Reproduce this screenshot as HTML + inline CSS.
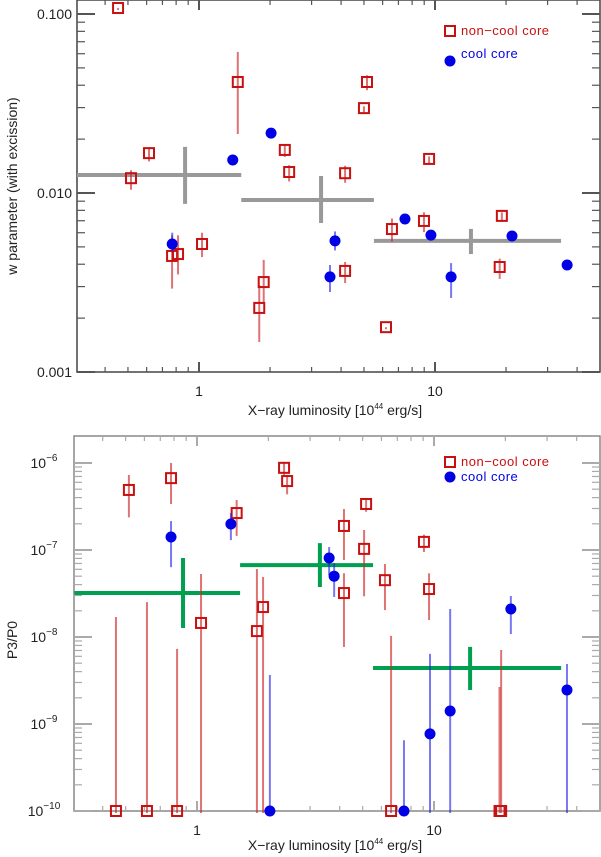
<!DOCTYPE html>
<html><head><meta charset="utf-8"><style>
html,body{margin:0;padding:0;background:#fff;}
svg{display:block;font-family:"Liberation Sans",sans-serif;}
</style></head><body>
<svg id="chart" width="601" height="857" viewBox="0 0 601 857" xmlns="http://www.w3.org/2000/svg">
<g id="top"></g>
<g id="bot"></g>
</svg>
<script>
// ---- top panel data (w parameter) ----
const wNccX   = [0.454,0.515,0.614,0.769,0.815,1.03,1.46,1.80,1.88,2.31,2.41,5.15,5.0,4.16,4.16,9.44,6.57,8.98,6.2,19.2,18.8];
const wNccY   = [0.108,0.0121,0.0167,0.00445,0.00456,0.00519,0.0417,0.00228,0.00318,0.0174,0.0131,0.0417,0.0298,0.0129,0.00367,0.0155,0.00629,0.00698,0.00178,0.00745,0.00386];
const wNccHi  = [0.108,0.0134,0.0180,0.0058,0.0058,0.0060,0.0614,0.00306,0.00423,0.0185,0.0143,0.0455,0.0305,0.0142,0.00412,0.0160,0.0072,0.0078,0.00178,0.0078,0.0043];
const wNccLo  = [0.108,0.0107,0.0154,0.0030,0.0036,0.0045,0.0219,0.00151,0.00252,0.0163,0.0119,0.0385,0.0290,0.0117,0.00322,0.0150,0.0055,0.0062,0.00178,0.0071,0.0034];
const wCcX    = [0.77,1.39,2.02,3.77,3.59,7.46,9.61,11.7,21.2,36.3];
const wCcY    = [0.00519,0.0153,0.0216,0.0054,0.0034,0.00716,0.00582,0.0034,0.00575,0.00396];
const wCcHi   = [0.0060,0.0153,0.0216,0.0061,0.00396,0.00716,0.00582,0.00406,0.00575,0.00396];
const wCcLo   = [0.0048,0.0153,0.0216,0.0049,0.00287,0.00716,0.00582,0.00266,0.00575,0.00396];
const wBinX   = [0.873,3.29,14.2];
const wBinXlo = [0.304,1.51,5.51];
const wBinXhi = [1.51,5.51,34.2];
const wBinY   = [0.0126,0.00914,0.0054];
const wBinYlo = [0.00869,0.0068,0.00456];
const wBinYhi = [0.0181,0.01245,0.0063];
const wYTicks = ["0.001","0.010","0.100"];
// ---- bottom panel data (P3/P0) ----
const pNccX   = [0.516,0.777,1.47,1.04,1.79,1.90,2.33,2.40,0.455,0.615,0.824,4.17,5.07,5.17,4.17,6.21,9.07,9.53,6.59,19.2,18.9];
const pNccY   = [4.9e-7,6.7e-7,2.66e-7,1.45e-8,1.17e-8,2.21e-8,8.8e-7,6.2e-7,1e-10,1e-10,1e-10,1.89e-7,1.03e-7,3.38e-7,3.2e-8,4.5e-8,1.24e-7,3.56e-8,1e-10,1e-10,1e-10];
const pNccHi  = [7.3e-7,1e-6,3.76e-7,5.3e-8,6.05e-8,4.9e-8,1e-6,7.3e-7,1.7e-8,2.52e-8,7.3e-9,2.96e-7,1.70e-7,3.9e-7,5.4e-8,6.9e-8,1.5e-7,5.4e-8,1.03e-8,7.1e-9,2.66e-9];
const pNccLo  = [2.5e-7,3.56e-7,1.53e-7,1e-10,1e-10,1e-10,7.6e-7,4.6e-7,1e-10,1e-10,1e-10,8.1e-8,3.1e-8,2.9e-7,8.1e-9,2.15e-8,1.0e-7,1.65e-8,1e-10,1e-10,1e-10];
const pCcX    = [0.777,1.39,2.03,3.61,3.79,7.47,9.62,11.7,21.1,36.4];
const pCcY    = [1.41e-7,1.99e-7,1e-10,8.1e-8,5.0e-8,1e-10,7.7e-10,1.41e-9,2.1e-8,2.46e-9];
const pCcHi   = [2.15e-7,2.66e-7,3.66e-9,1.08e-7,7.1e-8,6.5e-10,6.4e-9,2.1e-8,2.96e-8,4.9e-9];
const pCcLo   = [6.7e-8,1.37e-7,1e-10,5.4e-8,3.04e-8,1e-10,1e-10,1e-10,1.14e-8,1e-10];
const pBinX   = [0.873,3.30,14.2];
const pBinXlo = [0.304,1.52,5.53];
const pBinXhi = [1.52,5.53,34.4];
const pBinY   = [3.2e-8,6.7e-8,4.4e-9];
const pBinYlo = [1.27e-8,3.76e-8,2.46e-9];
const pBinYhi = [8.1e-8,1.2e-7,7.7e-9];
const pYExp   = ["−10","−9","−8","−7","−6"];
const xTickLabels = ["1","10"];

const NS="http://www.w3.org/2000/svg";
function mk(parent,tag,attrs){const e=document.createElementNS(NS,tag);for(const k in attrs)e.setAttribute(k,attrs[k]);parent.appendChild(e);return e;}
const L=Math.log10;

function panel(g,cfg){
  const sx=v=>cfg.x1+cfg.xd*L(v);
  const sy=v=>cfg.y0-cfg.yd*(L(v)-cfg.ylog0);
  const {l,r,t,b}=cfg;
  const fr=mk(g,'rect',{x:l,y:t,width:r-l,height:b-t,fill:'none',stroke:cfg.frame,'stroke-width':1.5});
  
  
  for(let d=-1;d<=1;d++)for(let m=1;m<=9;m++){
    const v=m*Math.pow(10,d);const px=sx(v);if(px<=l+1||px>=r-1)continue;
    const len=m===1?10:5;
    const t1=mk(g,'line',{x1:px,y1:b,x2:px,y2:b-len,stroke:cfg.tick,'stroke-width':m===1?2:1.2});
    
    
    const t2=mk(g,'line',{x1:px,y1:t,x2:px,y2:t+len,stroke:cfg.tick,'stroke-width':m===1?2:1.2});
    
    
  }
  xTickLabels.forEach((s,i)=>{
    const tx=mk(g,'text',{x:sx(Math.pow(10,i)),y:b+24,'text-anchor':'middle','font-size':14,fill:'#222'});
    tx.textContent=s;
    
    
  });
  for(let d=cfg.ylogMin;d<=cfg.ylogMax;d++)for(let m=1;m<=9;m++){
    const v=m*Math.pow(10,d);const py=sy(v);if(py<t+1||py>b+0.5)continue;
    const len=m===1?18:8;
    const a=mk(g,'line',{x1:l,y1:py,x2:l+len,y2:py,stroke:cfg.tick,'stroke-width':m===1?2:1.2});
    
    
    const c=mk(g,'line',{x1:r,y1:py,x2:r-len,y2:py,stroke:cfg.tick,'stroke-width':m===1?2:1.2});
    
    
  }
  cfg.ylabels(g,sy,l);
  const xt=mk(g,'text',{x:335,y:b+cfg.titleDy,'text-anchor':'middle','font-size':14,fill:'#222'});
  xt.innerHTML='X−ray luminosity [10<tspan dy="-6" font-size="8">44</tspan><tspan dy="6"> erg/s]</tspan>';
  
  
  const yt=mk(g,'text',{x:0,y:0,'text-anchor':'middle','font-size':14,fill:'#222',transform:`translate(17,${cfg.yTitleY}) rotate(-90)`});
  yt.textContent=cfg.ytitle;
  
  
  const cid='clip'+cfg.id;
  const cp=mk(g,'clipPath',{id:cid});mk(cp,'rect',{x:l,y:t,width:r-l,height:b-t+6});
  const dg=mk(g,'g',{'clip-path':`url(#${cid})`});
  
  
  cfg.bx.forEach((xv,i)=>{
    const h=mk(dg,'line',{x1:sx(cfg.bxlo[i]),x2:sx(cfg.bxhi[i]),y1:sy(cfg.by[i]),y2:sy(cfg.by[i]),stroke:cfg.binColor,'stroke-width':4});
    
    
    const v=mk(dg,'line',{x1:sx(xv),x2:sx(xv),y1:sy(cfg.bylo[i]),y2:sy(cfg.byhi[i]),stroke:cfg.binColor,'stroke-width':4});
    
    
  });
  function series(X,Y,Hi,Lo,type){
    X.forEach((xv,i)=>{
      const px=sx(xv),py=sy(Y[i]);
      const e=mk(dg,'line',{x1:px,x2:px,y1:sy(Hi[i]),y2:sy(Lo[i])+2,stroke:type==='sq'?'rgba(205,40,40,0.65)':'rgba(30,30,235,0.6)','stroke-width':2});
      
      
      let m;
      if(type==='sq'){m=mk(dg,'rect',{x:px-5,y:py-5,width:10,height:10,fill:'none',stroke:'#c81010','stroke-width':2});
        }
      else{m=mk(dg,'circle',{cx:px,cy:py,r:5.5,fill:'#0000e6'});
        }
      
    });
  }
  series(cfg.nx,cfg.ny,cfg.nhi,cfg.nlo,'sq');
  series(cfg.cx,cfg.cy,cfg.chi,cfg.clo,'dot');
  const lg=mk(g,'g',{});
  
  
  const s=mk(lg,'rect',{x:445,y:cfg.leg1-5,width:10,height:10,fill:'none',stroke:'#c81010','stroke-width':2});
  
  
  const t1=mk(lg,'text',{x:461,y:cfg.leg1+4,'font-size':13,fill:'#c81010','letter-spacing':'0.5'});t1.textContent='non−cool core';
  
  
  const c=mk(lg,'circle',{cx:450,cy:cfg.leg2,r:5.5,fill:'#0000e6'});
  
  
  const t2=mk(lg,'text',{x:461,y:cfg.leg2+cfg.leg2dy,'font-size':13,fill:'#0000e6','letter-spacing':'0.5'});t2.textContent='cool core';
  
  
}

panel(document.getElementById('top'),{id:'t',l:77,r:600,t:0,b:372,x1:199,xd:236,y0:14,yd:179,ylog0:-1,ylogMin:-3,ylogMax:-1,
  frame:'#444',tick:'#555',titleDy:43,ytitle:'w parameter (with excission)',yTitleY:186,
  ylabels:(g,sy,l)=>{wYTicks.forEach((s,i)=>{const tx=mk(g,'text',{x:l-5,y:sy(Math.pow(10,i-3))+5,'text-anchor':'end','font-size':14,fill:'#222'});tx.textContent=s;
    
    });},
  bx:wBinX,bxlo:wBinXlo,bxhi:wBinXhi,by:wBinY,bylo:wBinYlo,byhi:wBinYhi,binColor:'#999',
  nx:wNccX,ny:wNccY,nhi:wNccHi,nlo:wNccLo,cx:wCcX,cy:wCcY,chi:wCcHi,clo:wCcLo,leg1:31,leg2:61,leg2dy:-3});

panel(document.getElementById('bot'),{id:'b',l:74,r:600,t:436,b:811,x1:197,xd:237,y0:463,yd:87,ylog0:-6,ylogMin:-10,ylogMax:-6,
  frame:'#888',tick:'#aaa',titleDy:39,ytitle:'P3/P0',yTitleY:640,
  ylabels:(g,sy,l)=>{pYExp.forEach((s,i)=>{const tx=mk(g,'text',{x:l-30,y:sy(Math.pow(10,i-10))+5,'text-anchor':'middle','font-size':14,fill:'#222'});
    tx.innerHTML='10<tspan dy="-7" font-size="10">'+s+'</tspan>';
    
    });},
  bx:pBinX,bxlo:pBinXlo,bxhi:pBinXhi,by:pBinY,bylo:pBinYlo,byhi:pBinYhi,binColor:'#00a050',
  nx:pNccX,ny:pNccY,nhi:pNccHi,nlo:pNccLo,cx:pCcX,cy:pCcY,chi:pCcHi,clo:pCcLo,leg1:462,leg2:477,leg2dy:4});
</script>
</body></html>
